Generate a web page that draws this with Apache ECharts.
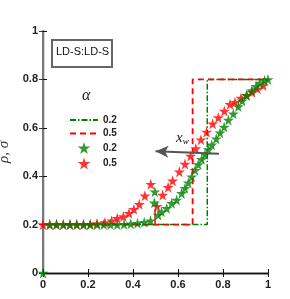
<!DOCTYPE html>
<html><head><meta charset="utf-8">
<script src="https://cdn.jsdelivr.net/npm/echarts@6/dist/echarts.min.js"></script>
<style>html,body{margin:0;padding:0;background:#fff}#c{width:290px;height:299px}</style>
</head><body><div id="c"></div>
<script>
// Tick labels
const xTicks = [0, 0.2, 0.4, 0.6, 0.8, 1];
const yTicks = [0, 0.2, 0.4, 0.6, 0.8, 1];
// Initial step profiles (lines)
const stepGreenX = [0, 0.73, 0.73, 1];
const stepGreenY = [0.2, 0.2, 0.8, 0.8];
const stepRedX = [0, 0.665, 0.665, 1];
const stepRedY = [0.2, 0.2, 0.8, 0.8];
// small red solid segment
const segRedX = [0.498, 0.498];
const segRedY = [0.2, 0.262];
// Green stars (alpha 0.2)
const greenX = [0, 0.03, 0.06, 0.09, 0.12, 0.15, 0.18, 0.21, 0.24, 0.27, 0.30, 0.33, 0.36, 0.39, 0.42, 0.45, 0.478, 0.495, 0.497, 0.512, 0.527, 0.55, 0.572, 0.594, 0.616, 0.631, 0.646, 0.661, 0.676, 0.69, 0.705, 0.72, 0.735, 0.75, 0.77, 0.787, 0.805, 0.824, 0.846, 0.868, 0.885, 0.905, 0.928, 0.947, 0.964, 0.985, 1.0];
const greenY = [0, 0.2, 0.2, 0.2, 0.2, 0.2, 0.2, 0.2, 0.2, 0.2, 0.2, 0.2, 0.201, 0.203, 0.206, 0.21, 0.216, 0.29, 0.336, 0.24, 0.253, 0.267, 0.288, 0.302, 0.329, 0.35, 0.373, 0.398, 0.425, 0.448, 0.47, 0.49, 0.51, 0.53, 0.555, 0.579, 0.603, 0.632, 0.658, 0.688, 0.712, 0.734, 0.754, 0.772, 0.785, 0.795, 0.8];
// Red stars (alpha 0.5)
const redX = [0, 0.03, 0.06, 0.09, 0.12, 0.15, 0.18, 0.21, 0.24, 0.275, 0.305, 0.33, 0.357, 0.382, 0.404, 0.428, 0.453, 0.479, 0.507, 0.532, 0.556, 0.576, 0.606, 0.631, 0.656, 0.679, 0.702, 0.727, 0.754, 0.779, 0.806, 0.831, 0.853, 0.88, 0.905, 0.929, 0.953, 0.979];
const redY = [0.2, 0.2, 0.2, 0.2, 0.2, 0.2, 0.2, 0.201, 0.204, 0.209, 0.216, 0.226, 0.233, 0.247, 0.263, 0.284, 0.319, 0.367, 0.276, 0.322, 0.354, 0.381, 0.418, 0.45, 0.483, 0.514, 0.551, 0.583, 0.617, 0.642, 0.669, 0.697, 0.706, 0.723, 0.734, 0.747, 0.761, 0.775];

const zip = (a, b) => a.map((v, i) => [v, b[i]]);
const STAR = 'path://M50,0 L61,35 L98,35 L68,57 L79,91 L50,70 L21,91 L32,57 L2,35 L39,35 Z';
const GREEN = '#008000', RED = '#ff0000';
const tickFont = {fontFamily: 'Liberation Sans, Arial', fontWeight: 'bold', fontSize: 11, color: '#222'};

const chart = echarts.init(document.getElementById('c'));
chart.setOption({
  animation: false,
  grid: {left: 43, right: 22, top: 31, bottom: 26, outerBoundsMode: 'none', containLabel: false},
  xAxis: [{
    type: 'value', min: 0, max: 1, interval: 0.2,
    name: 'x', nameLocation: 'middle', nameGap: 14,
    nameTextStyle: {fontFamily: 'Liberation Serif', fontSize: 17, color: '#333'},
    axisLine: {lineStyle: {color: '#111', width: 1.3}},
    axisTick: {inside: true, length: 4, lineStyle: {color: '#111'}},
    axisLabel: Object.assign({margin: 6, formatter: v => String(v)}, tickFont),
    splitLine: {show: false}
  }, {
    type: 'value', position: 'top', min: 0, max: 1, interval: 0.2,
    axisLine: {show: true, lineStyle: {color: '#111', width: 1.3}},
    axisTick: {inside: true, length: 4, lineStyle: {color: '#111'}},
    axisLabel: {show: false}, splitLine: {show: false}
  }],
  yAxis: [{
    type: 'value', min: 0, max: 1, interval: 0.2,
    name: 'ρ, σ', nameLocation: 'middle', nameGap: 23, nameRotate: 90,
    nameTextStyle: {fontFamily: 'Liberation Serif', fontStyle: 'italic', fontSize: 15, color: '#333'},
    axisLine: {show: true, lineStyle: {color: '#111', width: 1.3}},
    axisTick: {show: true, inside: true, length: 4, lineStyle: {color: '#111'}},
    axisLabel: Object.assign({margin: 5, formatter: v => String(v)}, tickFont),
    splitLine: {show: false}
  }, {
    type: 'value', position: 'right', min: 0, max: 1, interval: 0.2,
    axisLine: {show: true, lineStyle: {color: '#777', width: 2}},
    axisTick: {show: true, inside: true, length: 4, lineStyle: {color: '#333'}},
    axisLabel: {show: false}, splitLine: {show: false}
  }],
  legend: {
    orient: 'vertical', left: 64, top: 110, itemWidth: 28, itemHeight: 12, itemGap: 3.5,
    textStyle: {fontFamily: 'Liberation Sans, Arial', fontWeight: 'bold', fontSize: 10, color: '#222'},
    formatter: n => n.trim(),
    data: [
      {name: '0.2', itemStyle: {opacity: 0}},
      {name: '0.5', itemStyle: {opacity: 0}},
      {name: '0.2 '}, {name: '0.5 '}]
  },
  series: [
    {name: '0.2', type: 'line', data: zip(stepGreenX, stepGreenY), symbol: 'none', z: 2,
     lineStyle: {color: GREEN, width: 1.5, type: [6, 2, 1.5, 2]}, itemStyle: {color: GREEN}},
    {name: '0.5', type: 'line', data: zip(stepRedX, stepRedY), symbol: 'none', z: 2,
     lineStyle: {color: RED, width: 1.8, type: [6, 4]}, itemStyle: {color: RED},
     markLine: {silent: true, symbol: ['none', 'arrow'], symbolSize: [9, 13], label: {show: false},
       lineStyle: {color: '#555', width: 2, type: 'solid'},
       data: [[{coord: [0.782, 0.493]}, {coord: [0.5, 0.503]}]]}},
    {name: 'seg', type: 'line', data: zip(segRedX, segRedY), symbol: 'none', z: 2,
     lineStyle: {color: RED, width: 1.5}},
    {name: '0.2 ', type: 'scatter', data: zip(greenX, greenY), symbol: STAR, symbolSize: 11, clip: false, z: 4,
     itemStyle: {color: GREEN}},
    {name: '0.5 ', type: 'scatter', data: zip(redX, redY), symbol: STAR, symbolSize: 11, clip: false, z: 3,
     itemStyle: {color: RED}}
  ],
  graphic: [
    {type: 'rect', left: 51, top: 39, shape: {width: 60, height: 27},
     style: {fill: '#fff', stroke: '#666', lineWidth: 2}, z: 10},
    {type: 'text', left: 56, top: 46, z: 11,
     style: {text: 'LD-S:LD-S', font: '11px "Liberation Sans", Arial', fill: '#111'}},
    {type: 'text', left: 82, top: 88, z: 11,
     style: {text: 'α', font: 'italic 16px "Liberation Serif"', fill: '#222'}},
    {type: 'text', left: 176, top: 131, z: 11,
     style: {text: '{a|x}{b|w}', rich: {
       a: {fontFamily: 'Liberation Serif', fontStyle: 'italic', fontSize: 15, fill: '#222', color: '#222'},
       b: {fontFamily: 'Liberation Serif', fontStyle: 'italic', fontSize: 9, color: '#222', verticalAlign: 'bottom', padding: [6, 0, 0, 0]}}}}
  ]
});
</script></body></html>
